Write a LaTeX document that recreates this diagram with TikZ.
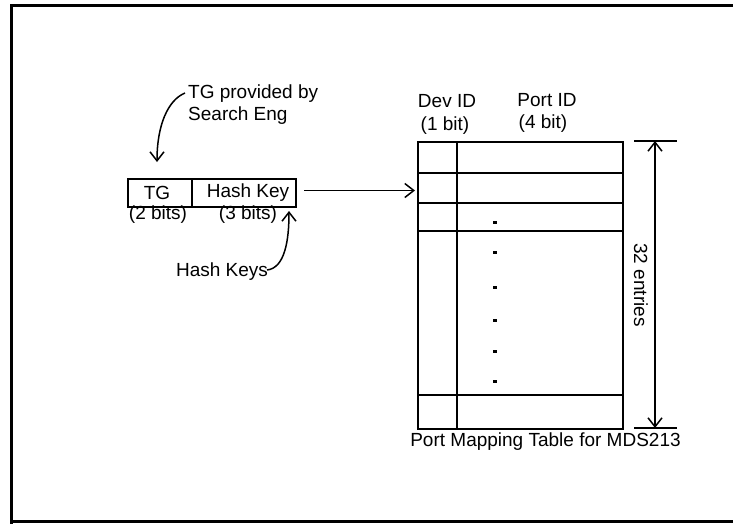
\documentclass[tikz,border=0pt]{standalone}
\usepackage{fontspec}
\setmainfont{Liberation Sans}
\usetikzlibrary{arrows.meta}
\begin{document}
\begin{tikzpicture}[x=1pt,y=-1pt,
  lbl/.style={inner sep=0pt,font=\fontsize{19}{22}\selectfont},
  tline/.style={line width=2pt},
  barb/.style={-{Straight Barb[length=9pt,width=14pt,line width=1.5pt]}},
  conn/.style={line width=1.5pt},
  dotsq/.style={fill=black,inner sep=0pt,minimum size=3.5pt}]
\useasboundingbox (0,0) rectangle (733,523);
% frame
\draw[line width=2.5pt] (11.5,540) -- (11.5,5.5) -- (745,5.5);
\draw[line width=2.5pt] (11.5,521.5) -- (745,521.5);
% key box
\node[draw,tline,minimum width=63.4pt,minimum height=27.4pt,inner sep=0pt,anchor=north west] (tg) at (127.3,178.3) {};
\node[draw,tline,minimum width=104.3pt,minimum height=27.4pt,inner sep=0pt,anchor=north west] (hk) at (190.7,178.3) {};
\node[lbl] (tgt) at (157,193) {TG};
\node[lbl] (hkt) at (248,193) {Hash Key};
\node[lbl] (tgb) at (158,215) {(2 bits)};
\node[lbl] (hkb) at (248,215) {(3 bits)};
% annotations
\node[lbl,align=left,anchor=west] (prov) at (188,105) {TG provided by\\Search Eng};
\node[lbl] (hks) at (222,272) {Hash Keys};
\coordinate (c1s) at (185,93);
\coordinate (c1e) at (157,162);
\draw[conn,barb] (c1s) .. controls (168,100) and (157,125) .. (c1e);
\coordinate (c2s) at (267,270);
\coordinate (c2e) at (289,211);
\draw[conn,barb] (c2s) .. controls (285,268) and (289,240) .. (c2e);
% table
\node[draw,tline,minimum width=205pt,minimum height=287pt,inner sep=0pt,anchor=north west] (tab) at (417,141) {};
\draw[tline] (457,141) -- (457,428);
\foreach \yy in {172.7,202.7,230.7,395.3} \draw[tline] (417,\yy) -- (623,\yy);
\foreach \yy [count=\i] in {222.7,252.7,287.3,320.7,351.7,381.7} \node[dotsq] (d\i) at (495,\yy) {};
\coordinate (ks) at (304,190.5);
\coordinate (ke) at (415,190.5);
\draw[conn,barb] (ks) -- (ke);
% headers
\node[lbl] (dev) at (447,101) {Dev ID};
\node[lbl] (dev2) at (445,126) {(1 bit)};
\node[lbl] (port) at (547,100) {Port ID};
\node[lbl] (port2) at (543,124) {(4 bit)};
% dimension
\draw[tline] (634,141) -- (677,141);
\draw[tline] (634,428) -- (677,428);
\coordinate (dt) at (655,141);
\coordinate (db) at (655,428);
\draw[conn,{Straight Barb[length=9pt,width=14pt,line width=1.5pt]}-{Straight Barb[length=9pt,width=14pt,line width=1.5pt]}] (dt) -- (db);
\node[lbl,rotate=-90] (ent) at (641,285) {32 entries};
\node[lbl] (cap) at (545.5,442) {Port Mapping Table for MDS213};
\end{tikzpicture}
\end{document}
